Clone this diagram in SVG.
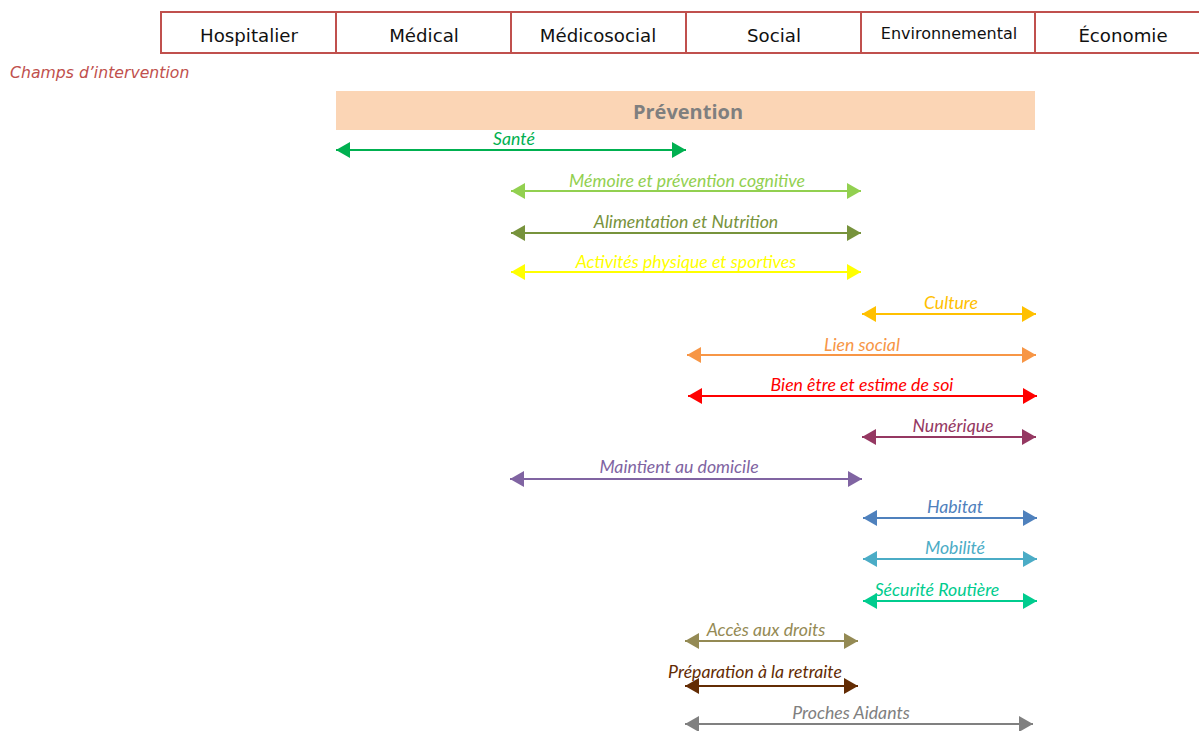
<svg xmlns="http://www.w3.org/2000/svg" width="1199" height="731" viewBox="0 0 1199 731">
<style>
.hdr rect{fill:#fff;stroke:#c0504d;stroke-width:2}
.hdr text{font-family:"DejaVu Sans",Verdana,sans-serif;font-size:18.2px;fill:#111;text-anchor:middle}
.lbl{font-family:Lato,"Liberation Sans",sans-serif;font-style:italic;font-size:17.7px;text-anchor:middle}
.conn line{stroke-width:2.2;fill:none}
</style>
<defs id="markers">
<marker id="m1" viewBox="0 0 14 16" refX="14" refY="8" markerWidth="14" markerHeight="16" markerUnits="userSpaceOnUse" orient="auto-start-reverse"><path d="M0,0 L14,8 L0,16 Z" fill="#00b050"/></marker>
<marker id="m2" viewBox="0 0 14 16" refX="14" refY="8" markerWidth="14" markerHeight="16" markerUnits="userSpaceOnUse" orient="auto-start-reverse"><path d="M0,0 L14,8 L0,16 Z" fill="#92d050"/></marker>
<marker id="m3" viewBox="0 0 14 16" refX="14" refY="8" markerWidth="14" markerHeight="16" markerUnits="userSpaceOnUse" orient="auto-start-reverse"><path d="M0,0 L14,8 L0,16 Z" fill="#77933c"/></marker>
<marker id="m4" viewBox="0 0 14 16" refX="14" refY="8" markerWidth="14" markerHeight="16" markerUnits="userSpaceOnUse" orient="auto-start-reverse"><path d="M0,0 L14,8 L0,16 Z" fill="#ffff00"/></marker>
<marker id="m5" viewBox="0 0 14 16" refX="14" refY="8" markerWidth="14" markerHeight="16" markerUnits="userSpaceOnUse" orient="auto-start-reverse"><path d="M0,0 L14,8 L0,16 Z" fill="#ffc000"/></marker>
<marker id="m6" viewBox="0 0 14 16" refX="14" refY="8" markerWidth="14" markerHeight="16" markerUnits="userSpaceOnUse" orient="auto-start-reverse"><path d="M0,0 L14,8 L0,16 Z" fill="#f79646"/></marker>
<marker id="m7" viewBox="0 0 14 16" refX="14" refY="8" markerWidth="14" markerHeight="16" markerUnits="userSpaceOnUse" orient="auto-start-reverse"><path d="M0,0 L14,8 L0,16 Z" fill="#ff0000"/></marker>
<marker id="m8" viewBox="0 0 14 16" refX="14" refY="8" markerWidth="14" markerHeight="16" markerUnits="userSpaceOnUse" orient="auto-start-reverse"><path d="M0,0 L14,8 L0,16 Z" fill="#953862"/></marker>
<marker id="m9" viewBox="0 0 14 16" refX="14" refY="8" markerWidth="14" markerHeight="16" markerUnits="userSpaceOnUse" orient="auto-start-reverse"><path d="M0,0 L14,8 L0,16 Z" fill="#8064a2"/></marker>
<marker id="m10" viewBox="0 0 14 16" refX="14" refY="8" markerWidth="14" markerHeight="16" markerUnits="userSpaceOnUse" orient="auto-start-reverse"><path d="M0,0 L14,8 L0,16 Z" fill="#4f81bd"/></marker>
<marker id="m11" viewBox="0 0 14 16" refX="14" refY="8" markerWidth="14" markerHeight="16" markerUnits="userSpaceOnUse" orient="auto-start-reverse"><path d="M0,0 L14,8 L0,16 Z" fill="#4bacc6"/></marker>
<marker id="m12" viewBox="0 0 14 16" refX="14" refY="8" markerWidth="14" markerHeight="16" markerUnits="userSpaceOnUse" orient="auto-start-reverse"><path d="M0,0 L14,8 L0,16 Z" fill="#00cc8e"/></marker>
<marker id="m13" viewBox="0 0 14 16" refX="14" refY="8" markerWidth="14" markerHeight="16" markerUnits="userSpaceOnUse" orient="auto-start-reverse"><path d="M0,0 L14,8 L0,16 Z" fill="#948a54"/></marker>
<marker id="m14" viewBox="0 0 14 16" refX="14" refY="8" markerWidth="14" markerHeight="16" markerUnits="userSpaceOnUse" orient="auto-start-reverse"><path d="M0,0 L14,8 L0,16 Z" fill="#632c04"/></marker>
<marker id="m15" viewBox="0 0 14 16" refX="14" refY="8" markerWidth="14" markerHeight="16" markerUnits="userSpaceOnUse" orient="auto-start-reverse"><path d="M0,0 L14,8 L0,16 Z" fill="#808080"/></marker>
</defs>
<rect width="1199" height="731" fill="#fff"/>
<g id="header" class="hdr">
<g id="h-hospitalier"><rect x="161" y="12" width="175" height="41"/><text x="249" y="42">Hospitalier</text></g>
<g id="h-medical"><rect x="336" y="12" width="175" height="41"/><text x="424" y="42">Médical</text></g>
<g id="h-medicosocial"><rect x="511" y="12" width="175" height="41"/><text x="598" y="42">Médicosocial</text></g>
<g id="h-social"><rect x="686" y="12" width="175" height="41"/><text x="774" y="42">Social</text></g>
<g id="h-env"><rect x="861" y="12" width="174" height="41"/><text x="949" y="39" style="font-size:16px">Environnemental</text></g>
<g id="h-eco"><rect x="1035" y="12" width="170" height="41"/><text x="1123" y="42">Économie</text></g>
</g>
<text x="10" y="78" style="font-family:'DejaVu Sans',Verdana,sans-serif;font-style:italic;font-size:15.7px;fill:#c0504d">Champs d’intervention</text>
<g id="prevention">
<rect x="336" y="91" width="699" height="39" fill="#fbd5b5"/>
<text x="688" y="119" style="font-family:'Open Sans','Liberation Sans',sans-serif;font-weight:bold;font-size:20px;fill:#7f7f7f;text-anchor:middle">Prévention</text>
</g>
<g id="connectors" class="conn">
<line x1="336" y1="150" x2="686" y2="150" stroke="#00b050" stroke-width="2.6" marker-start="url(#m1)" marker-end="url(#m1)"/>
<line x1="511" y1="191" x2="861" y2="191" stroke="#92d050" marker-start="url(#m2)" marker-end="url(#m2)"/>
<line x1="511" y1="233" x2="861" y2="233" stroke="#77933c" marker-start="url(#m3)" marker-end="url(#m3)"/>
<line x1="511" y1="272" x2="861" y2="272" stroke="#ffff00" marker-start="url(#m4)" marker-end="url(#m4)"/>
<line x1="862" y1="314" x2="1036" y2="314" stroke="#ffc000" marker-start="url(#m5)" marker-end="url(#m5)"/>
<line x1="687" y1="355" x2="1036" y2="355" stroke="#f79646" marker-start="url(#m6)" marker-end="url(#m6)"/>
<line x1="688" y1="396" x2="1037" y2="396" stroke="#ff0000" stroke-width="2.6" marker-start="url(#m7)" marker-end="url(#m7)"/>
<line x1="862" y1="437" x2="1036" y2="437" stroke="#953862" marker-start="url(#m8)" marker-end="url(#m8)"/>
<line x1="510" y1="479" x2="862" y2="479" stroke="#8064a2" marker-start="url(#m9)" marker-end="url(#m9)"/>
<line x1="863" y1="518" x2="1037" y2="518" stroke="#4f81bd" marker-start="url(#m10)" marker-end="url(#m10)"/>
<line x1="863" y1="559" x2="1037" y2="559" stroke="#4bacc6" marker-start="url(#m11)" marker-end="url(#m11)"/>
<line x1="863" y1="601" x2="1037" y2="601" stroke="#00cc8e" stroke-width="2.6" marker-start="url(#m12)" marker-end="url(#m12)"/>
<line x1="685" y1="641" x2="858" y2="641" stroke="#948a54" marker-start="url(#m13)" marker-end="url(#m13)"/>
<line x1="685" y1="686" x2="858" y2="686" stroke="#632c04" stroke-width="3" marker-start="url(#m14)" marker-end="url(#m14)"/>
<line x1="685" y1="724" x2="1033" y2="724" stroke="#808080" marker-start="url(#m15)" marker-end="url(#m15)"/>
</g>
<g id="labels" class="lbl">
<text x="514" y="145" fill="#00b050">Santé</text>
<text x="687" y="187" fill="#92d050">Mémoire et prévention cognitive</text>
<text x="686" y="228" fill="#77933c">Alimentation et Nutrition</text>
<text x="686" y="268" fill="#ffff00">Activités physique et sportives</text>
<text x="951" y="309" fill="#ffc000">Culture</text>
<text x="862" y="351" fill="#f79646">Lien social</text>
<text x="862" y="391" fill="#ff0000">Bien être et estime de soi</text>
<text x="953" y="432" fill="#953862">Numérique</text>
<text x="679" y="473" fill="#8064a2">Maintient au domicile</text>
<text x="955" y="513" fill="#4f81bd">Habitat</text>
<text x="955" y="554" fill="#4bacc6">Mobilité</text>
<text x="937" y="596" fill="#00cc8e">Sécurité Routière</text>
<text x="766" y="636" fill="#948a54">Accès aux droits</text>
<text x="755" y="678" fill="#632c04">Préparation à la retraite</text>
<text x="851" y="719" fill="#808080">Proches Aidants</text>
</g>
</svg>
